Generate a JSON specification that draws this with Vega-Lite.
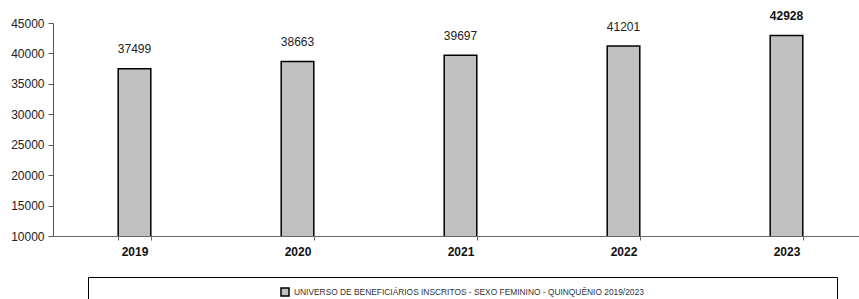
{
  "$schema": "https://vega.github.io/schema/vega-lite/v6.json",
  "width": 806,
  "height": 213,
  "autosize": {"type": "none"},
  "padding": {"left": 53, "top": 23, "right": 0, "bottom": 63},
  "background": "white",
  "config": {"font": "Liberation Sans", "view": {"stroke": null}},
  "data": {
    "values": [
      {"ano": "2019", "valor": 37499},
      {"ano": "2020", "valor": 38663},
      {"ano": "2021", "valor": 39697},
      {"ano": "2022", "valor": 41201},
      {"ano": "2023", "valor": 42928}
    ]
  },
  "encoding": {
    "x": {
      "field": "ano",
      "type": "nominal",
      "sort": null,
      "scale": {"range": [0, 815], "paddingInner": 0.8, "paddingOuter": 0.4},
      "axis": {
        "title": null,
        "labelAngle": 0,
        "labelFontWeight": "bold",
        "labelFontSize": 12,
        "labelColor": "#111",
        "domainColor": "#666",
        "tickColor": "#666",
        "tickSize": 4,
        "tickBand": "extent",
        "labelPadding": 6
      }
    },
    "y": {
      "field": "valor",
      "type": "quantitative",
      "scale": {"domain": [10000, 45000], "nice": false, "zero": false},
      "axis": {
        "title": null,
        "grid": false,
        "format": "d",
        "tickCount": 7,
        "domainColor": "#555",
        "tickColor": "#555",
        "tickSize": 5,
        "labelFontSize": 12,
        "labelColor": "#222",
        "labelPadding": 4
      }
    }
  },
  "layer": [
    {
      "mark": {"type": "bar", "stroke": "#000", "strokeWidth": 1.5, "clip": true},
      "encoding": {
        "color": {
          "datum": "UNIVERSO DE BENEFICIÁRIOS INSCRITOS - SEXO FEMININO - QUINQUÊNIO 2019/2023",
          "type": "nominal",
          "scale": {"range": ["#c0c0c0"]},
          "legend": {
            "orient": "none",
            "legendX": 35,
            "legendY": 254,
            "title": " ",
            "titleOrient": "right",
            "titlePadding": 183,
            "padding": 10,
            "strokeColor": "#000",
            "fillColor": "white",
            "symbolType": "square",
            "symbolSize": 64,
            "symbolStrokeColor": "#000",
            "symbolStrokeWidth": 1.5,
            "symbolOffset": 182,
            "labelFontSize": 8.4,
            "labelColor": "#333",
            "labelLimit": 1000
          }
        }
      }
    },
    {
      "transform": [{"filter": "datum.ano != '2023'"}],
      "mark": {"type": "text", "baseline": "alphabetic", "dy": -15.5, "fontSize": 12, "color": "#222"},
      "encoding": {"text": {"field": "valor", "type": "quantitative", "format": "d"}}
    },
    {
      "transform": [{"filter": "datum.ano == '2023'"}],
      "mark": {"type": "text", "baseline": "alphabetic", "dy": -15.5, "fontSize": 12, "fontWeight": "bold", "color": "#111"},
      "encoding": {"text": {"field": "valor", "type": "quantitative", "format": "d"}}
    }
  ]
}
